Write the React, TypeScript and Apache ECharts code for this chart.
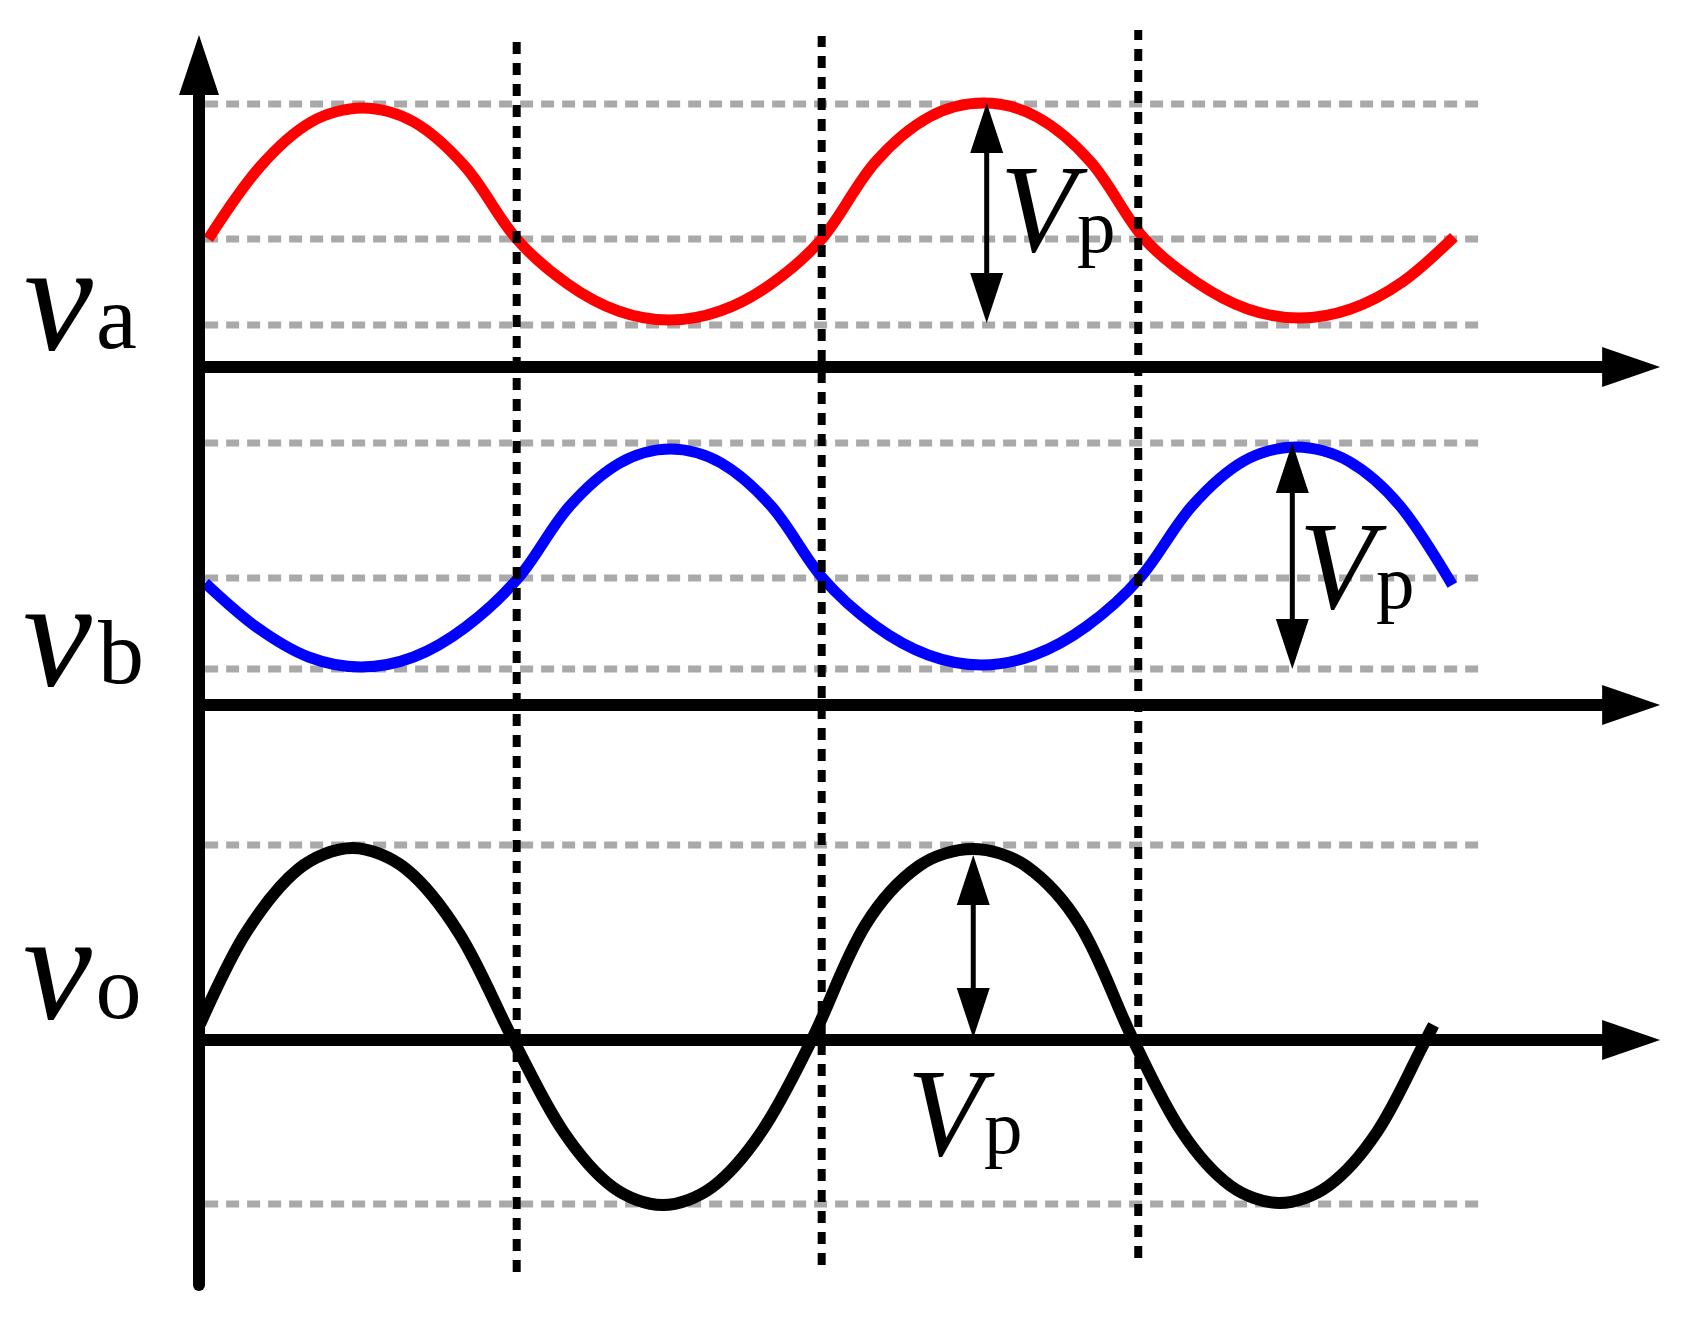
import React, { useEffect, useRef } from "react";
import * as echarts from "echarts";

// ---- Data (time in ms, voltage in V relative to each panel's own baseline) ----
const VA_WAVE: [number, number][] = [
  [0.04, 1.28], [1.69, 2.0], [3.33, 2.45], [4.98, 2.59], [6.62, 2.45], [8.27, 2.0], [9.91, 1.28],
  [11.54, 0.83], [13.16, 0.56], [14.79, 0.47], [16.42, 0.56], [18.05, 0.83], [19.67, 1.28],
  [21.39, 2.05], [23.11, 2.5], [24.84, 2.64], [26.56, 2.5], [28.28, 2.05], [30.0, 1.28],
  [31.65, 0.85], [33.3, 0.58], [34.95, 0.49], [36.6, 0.58], [38.25, 0.85], [39.9, 1.3],
];
const VB_WAVE: [number, number][] = [
  [-0.06, 1.22], [1.58, 0.78], [3.25, 0.48], [4.93, 0.38], [6.61, 0.48], [8.28, 0.78], [9.96, 1.27],
  [11.58, 1.98], [13.21, 2.42], [14.83, 2.56], [16.45, 2.42], [18.08, 1.98], [19.7, 1.27],
  [21.39, 0.79], [23.08, 0.5], [24.78, 0.4], [26.47, 0.5], [28.16, 0.79], [29.85, 1.27],
  [31.52, 1.99], [33.18, 2.44], [34.85, 2.58], [36.52, 2.44], [38.18, 1.99], [39.85, 1.2],
];
const VO_WAVE: [number, number][] = [
  [-0.22, 0.16], [1.22, 1.06], [2.93, 1.71], [4.65, 1.92], [6.37, 1.71], [8.08, 1.06], [9.8, 0],
  [11.39, -0.91], [12.98, -1.47], [14.58, -1.65], [16.17, -1.47], [17.76, -0.91], [19.35, 0],
  [21.07, 1.15], [22.78, 1.74], [24.5, 1.91], [26.21, 1.74], [27.93, 1.15], [29.64, 0],
  [31.2, -0.92], [32.76, -1.46], [34.32, -1.63], [35.88, -1.46], [37.44, -0.92], [39.0, 0], [39.25, 0.15],
];

// reference (grey dashed) levels, relative to panel baseline
const VA_LEVELS = [2.63, 1.28, 0.42];
const VB_LEVELS = [2.62, 1.27, 0.36];
const VO_LEVELS = [1.95, -1.64];
const LEVEL_T_RANGE = [-0.06, 40.93];

// panel baselines (V) on the common vertical scale
const BASE_A = 6.73;
const BASE_B = 3.35;
const BASE_O = 0;

// phase marker lines (ms) and their vertical spans (V)
const PHASE_T = [9.91, 19.67, 29.8];
const PHASE_SPAN: [number, number][] = [[-2.32, 9.98], [-2.25, 10.04], [-2.18, 10.1]];

// Vp amplitude markers: time, top, bottom (relative to panel baseline)
const VP_MARKS = [
  { t: 24.95, top: 2.64, bottom: 0.44, base: BASE_A },
  { t: 34.73, top: 2.62, bottom: 0.36, base: BASE_B },
  { t: 24.52, top: 1.85, bottom: 0.02, base: BASE_O },
];

// axes
const AXIS_T0 = -0.256;
const AXIS_T_TIP = 46.5;
const YAXIS_V_BOTTOM = -2.45;
const YAXIS_V_TIP = 10.05;

// ---- layout (pixel scale of the drawing) ----
const W = 1691;
const H = 1331;
const PX_PER_MS = 31.25;
const PX_PER_V = 100;
const T_AT_LEFT = -207 / PX_PER_MS;
const T_AT_RIGHT = (W - 207) / PX_PER_MS;
const V_AT_TOP = 1040 / PX_PER_V;
const V_AT_BOTTOM = (1040 - H) / PX_PER_V;

const FONT = "'Liberation Serif', 'Times New Roman', serif";

function App() {
  const ref = useRef<HTMLDivElement>(null);

  useEffect(() => {
    if (!ref.current) return;
    const chart = echarts.init(ref.current, null, { renderer: "svg" });

    const line = (data: number[][], color: string, width: number, type: any, z: number, cap = "butt", smooth: any = false) => ({
      type: "line",
      data,
      symbol: "none",
      showSymbol: false,
      silent: true,
      smooth,
      z,
      clip: false,
      lineStyle: { color, width, type, cap },
    });

    const series: any[] = [];

    // grey dashed reference levels
    const levelSets: [number[], number][] = [[VA_LEVELS, BASE_A], [VB_LEVELS, BASE_B], [VO_LEVELS, BASE_O]];
    levelSets.forEach(([levels, base]) => {
      levels.forEach((lv) => {
        series.push(line([[LEVEL_T_RANGE[0], base + lv], [LEVEL_T_RANGE[1], base + lv]], "#a9a9a9", 7, [13, 8], 1, "butt"));
      });
    });

    // waves
    const SMOOTH = 0.33;
    series.push(line(VA_WAVE.map(([t, v]) => [t, v + BASE_A]), "#ff0000", 11, "solid", 2, "butt", SMOOTH));
    series.push(line(VB_WAVE.map(([t, v]) => [t, v + BASE_B]), "#0000ff", 11, "solid", 2, "butt", SMOOTH));
    series.push(line(VO_WAVE.map(([t, v]) => [t, v + BASE_O]), "#000000", 12, "solid", 2, "butt", SMOOTH));

    // phase marker dotted lines
    PHASE_T.forEach((t, i) => {
      series.push(line([[t, PHASE_SPAN[i][0]], [t, PHASE_SPAN[i][1]]], "#000000", 8, [12, 9], 3, "butt"));
    });

    // axes
    const halfArrowT = 29 / PX_PER_MS;
    [BASE_A, BASE_B, BASE_O].forEach((b) => {
      series.push(line([[AXIS_T0, b], [AXIS_T_TIP - halfArrowT, b]], "#000000", 12, "solid", 4, "butt"));
    });
    series.push(line([[AXIS_T0, YAXIS_V_BOTTOM], [AXIS_T0, YAXIS_V_TIP - 30 / PX_PER_V]], "#000000", 12, "solid", 4, "round"));

    // Vp shafts
    VP_MARKS.forEach((m) => {
      series.push(line([[m.t, m.base + m.top - 25 / PX_PER_V], [m.t, m.base + m.bottom + 25 / PX_PER_V]], "#000000", 5, "solid", 5, "butt"));
    });

    const arrows = (data: number[][], size: number[], rotate: number, offset: number[]) => ({
      type: "scatter",
      data,
      symbol: "triangle",
      symbolSize: size,
      symbolRotate: rotate,
      symbolOffset: offset,
      silent: true,
      z: 6,
      clip: false,
      itemStyle: { color: "#000000", opacity: 1 },
    });
    series.push(arrows([BASE_A, BASE_B, BASE_O].map((b) => [AXIS_T_TIP, b]), [40, 58], -90, [-29, 0]));
    series.push(arrows([[AXIS_T0, YAXIS_V_TIP]], [40, 60], 0, [0, 30]));
    series.push(arrows(VP_MARKS.map((m) => [m.t, m.base + m.top]), [33, 50], 0, [0, 25]));
    series.push(arrows(VP_MARKS.map((m) => [m.t, m.base + m.bottom]), [33, 50], 180, [0, -25]));

    const txt = (text: string, x: number, baseline: number, size: number, italic: boolean) => ({
      type: "text",
      x,
      y: baseline - 0.3375 * size,
      z: 100,
      silent: true,
      style: {
        text,
        fill: "#000000",
        font: `${italic ? "italic " : ""}${size}px ${FONT}`,
        textAlign: "left",
        textVerticalAlign: "middle",
        verticalAlign: "middle",
      },
    });

    const graphic = [
      txt("v", 24, 349, 155, true), txt("a", 96, 348.3, 92, false),
      txt("v", 23, 685, 155, true), txt("b", 98, 683.3, 92, false),
      txt("v", 23, 1018.3, 155, true), txt("o", 95.5, 1018.3, 92, false),
      txt("V", 1000, 251.7, 124, true), txt("p", 1077, 251.7, 77, false),
      txt("V", 1299, 608.3, 124, true), txt("p", 1376, 608.3, 77, false),
      txt("V", 907, 1155, 124, true), txt("p", 984, 1153.3, 77, false),
    ];

    chart.setOption({
      animation: false,
      backgroundColor: "#ffffff",
      grid: { left: 0, right: 0, top: 0, bottom: 0, containLabel: false },
      xAxis: { type: "value", min: T_AT_LEFT, max: T_AT_RIGHT, show: false },
      yAxis: { type: "value", min: V_AT_BOTTOM, max: V_AT_TOP, show: false },
      tooltip: { show: false },
      series,
      graphic,
    });

    return () => chart.dispose();
  }, []);

  return (
    <div
      ref={ref}
      style={{ position: "absolute", left: 0, top: 0, width: W, height: H, background: "#fff" }}
    />
  );
}

export default App;
